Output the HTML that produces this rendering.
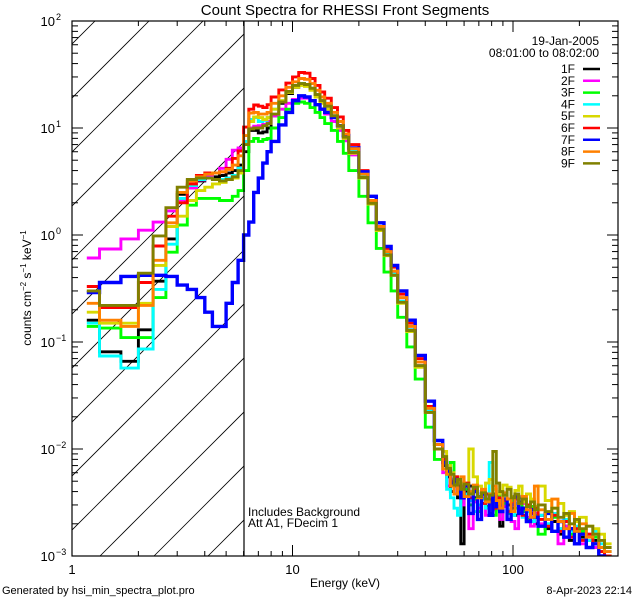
<!DOCTYPE html>
<html><head><meta charset="utf-8"><style>
html,body{margin:0;padding:0;background:#fff;}
svg{display:block;font-family:"Liberation Sans",sans-serif;}
</style></head><body>
<svg id="chart" width="640" height="600" viewBox="0 0 640 600" xmlns="http://www.w3.org/2000/svg">
<rect x="0" y="0" width="640" height="600" fill="#fff"/>
<text x="345" y="15" text-anchor="middle" font-size="15">Count Spectra for RHESSI Front Segments</text>
<g id="hatch"></g>
<g id="series"></g>
<g id="axes"></g>
<text x="31" y="288" transform="rotate(-90 31 288)" text-anchor="middle" font-size="12">counts cm<tspan font-size="8" dy="-5">−2</tspan><tspan dy="5"> s</tspan><tspan font-size="8" dy="-5">−1</tspan><tspan dy="5"> keV</tspan><tspan font-size="8" dy="-5">−1</tspan></text>
<text x="345" y="587" text-anchor="middle" font-size="12">Energy (keV)</text>
<text x="2" y="594" font-size="11">Generated by hsi_min_spectra_plot.pro</text>
<text x="632" y="594" text-anchor="end" font-size="11">8-Apr-2023 22:14</text>
<text x="248" y="516" font-size="12">Includes Background</text>
<text x="248" y="527" font-size="12">Att A1, FDecim 1</text>
<text x="599" y="45" text-anchor="end" font-size="12">19-Jan-2005</text>
<text x="599" y="57" text-anchor="end" font-size="12">08:01:00 to 08:02:00</text>
<g id="legend"></g>
</svg>
<script>
const binEdges = [1.167,1.333,1.667,2,2.333,2.667,3,3.333,3.667,4,4.333,4.667,5,5.333,5.667,6,6.333,6.667,7,7.333,7.667,8,
8.667,9.333,10,10.667,11.333,12,12.667,13.333,14,
15,16,17,18,20,22,24,26,28,30,33,36,40,44,48,
50,52,54,56,58,60,63,66,69,72,75,78,81,84,87,90,94,98,102,106,110,115,120,125,130,140,150,160,170,180,190,200,215,230,245,260,280];
const seriesNames = ["1F","2F","3F","4F","5F","6F","7F","8F","9F"];
const seriesColors = ["#000000","#ff00ff","#00ff00","#00ffff","#d8d800","#ff0000","#0000ff","#ff8000","#808000"];
const s1F = [0.16,0.081,0.066,0.13,0.37,0.92,2.4,2.9,3.2,3.4,3.5,3.6,3.8,4.0,4.5,
6,9.5,9.5,9.0,9.2,10, 13,17,21,24,26,25.5,23.5,20.5,18,
16,13,10.5,8.3,6.0,3.5,2.0,1.15,0.66,0.43,0.24,0.13,0.06,0.023,0.011,
0.007,0.0055,0.004,0.005,0.0035,0.0013,0.004,0.0045,0.0035,0.003,0.004,0.0032,0.0025,0.0038,0.0029,0.0019,0.0035,0.003,0.0028,0.0024,0.0032,0.0026,0.0022,0.0028,0.002,0.0024,0.0018,0.0021,0.0016,0.0019,0.0014,0.0017,0.0015,0.0012,0.0014,0.001,0.0009];
const s2F = [0.61,0.74,0.92,1.11,1.32,1.68,2.13,2.75,3.27,3.56,3.8,4.2,5.1,6.2,6.5,
7.5,10,10.4,10.5,10.8,11.5, 13,15,17,18.5,19,19,18,16.5,15,
13.5,11.5,9.5,7.6,5.6,3.4,1.95,1.12,0.65,0.43,0.24,0.13,0.06,0.023,0.010,
0.006,0.0045,0.005,0.0038,0.0042,0.003,0.0036,0.0018,0.0032,0.0028,0.0035,0.0024,0.003,0.0027,0.0033,0.0022,0.0029,0.0026,0.0021,0.0018,0.0027,0.0031,0.0023,0.0019,0.0025,0.002,0.0022,0.0017,0.0013,0.0019,0.0015,0.0018,0.0013,0.0016,0.0012,0.0011,0.0009];
const s3F = [0.14,0.135,0.11,0.11,0.26,0.69,1.24,1.9,2.2,2.2,2.2,2.1,2.1,2.3,2.6,
4,7.5,8,7.5,7.8,8, 10,12.5,15,17,17.5,17,15.5,14,12.5,
11,9.5,7.5,5.8,4.0,2.3,1.3,0.75,0.45,0.3,0.17,0.09,0.045,0.016,0.008,
0.0085,0.006,0.0075,0.0045,0.0048,0.0036,0.0042,0.003,0.0034,0.0026,0.0038,0.0029,0.0032,0.0024,0.0036,0.0027,0.0031,0.0025,0.0033,0.0028,0.0035,0.0026,0.0022,0.0029,0.0024,0.0016,0.002,0.0023,0.0018,0.0021,0.0016,0.0013,0.0017,0.0014,0.0015,0.0011,0.001];
const s4F = [0.15,0.074,0.057,0.086,0.31,0.82,2.2,2.9,3.3,3.4,3.3,3.3,3.4,3.6,4.2,
7.5,12,12.5,11.5,11.8,12.5, 15,18,22,25,26,25.5,23.5,20.5,18,
16,13,10.5,8.3,6.0,3.5,2.0,1.15,0.66,0.43,0.24,0.13,0.06,0.023,0.011,
0.0065,0.0042,0.0035,0.0028,0.0024,0.0045,0.0038,0.0033,0.0026,0.003,0.0034,0.0028,0.0075,0.0045,0.0032,0.0029,0.0036,0.0027,0.0024,0.0031,0.0028,0.0023,0.0026,0.0021,0.0029,0.0024,0.002,0.0025,0.0018,0.0022,0.0017,0.0019,0.0016,0.0014,0.0017,0.0013,0.0011];
const s5F = [0.19,0.15,0.15,0.23,0.52,1.2,1.5,2.1,2.6,2.8,3.0,3.1,3.3,3.4,3.8,
7,11.5,12.7,12.5,12,12.5, 15,18,21.5,24,25,24.5,22.5,19.5,17,
15,12.5,10,8,5.8,3.4,1.95,1.1,0.64,0.42,0.23,0.125,0.058,0.022,0.010,
0.0095,0.007,0.006,0.0055,0.0048,0.0042,0.0045,0.01,0.0055,0.0045,0.004,0.0048,0.0052,0.0042,0.0038,0.004,0.0046,0.0044,0.0036,0.0041,0.0045,0.0032,0.0038,0.0034,0.0029,0.0045,0.0033,0.0028,0.0031,0.0024,0.0026,0.0021,0.0023,0.0019,0.0018,0.0016,0.0013];
const s6F = [0.33,0.21,0.21,0.36,0.79,1.5,2.0,3.0,3.6,3.8,3.8,3.9,4.2,5.2,6.1,
10.2,15,16.4,16,15.5,16.5, 19.5,22.7,26.3,30,33,32.5,29,25,21.7,
19,15.5,12.7,9.5,7.0,4.0,2.3,1.3,0.75,0.5,0.28,0.15,0.07,0.025,0.011,
0.008,0.0065,0.005,0.0055,0.0045,0.004,0.0048,0.0035,0.0042,0.0036,0.0031,0.0038,0.0034,0.0028,0.0035,0.003,0.0033,0.0026,0.0031,0.0034,0.0027,0.0024,0.003,0.0025,0.0028,0.0022,0.0019,0.0024,0.0017,0.0021,0.0015,0.0018,0.0014,0.0016,0.0013,0.0011,0.001];
const s7F = [0.29,0.36,0.41,0.42,0.42,0.41,0.34,0.31,0.26,0.19,0.14,0.14,0.23,0.36,0.58,
1.0,1.32,2.5,3.4,4.7,6.0, 7.5,10.7,14,18,20,19.5,18,16.5,15,
14,12.5,10.5,8.5,6.5,3.9,2.3,1.3,0.78,0.52,0.3,0.16,0.075,0.028,0.012,
0.0075,0.0062,0.0048,0.0052,0.004,0.0035,0.0045,0.0025,0.004,0.0022,0.0038,0.0033,0.0024,0.0036,0.0029,0.0026,0.0034,0.0022,0.003,0.0036,0.0025,0.0028,0.0021,0.0027,0.0023,0.0019,0.0025,0.0017,0.0021,0.0015,0.0018,0.0013,0.0016,0.0012,0.0013,0.001,0.0009];
const s8F = [0.23,0.16,0.14,0.22,0.58,1.3,2.5,3.2,3.5,3.7,3.8,3.9,4.1,4.5,5.5,
8.5,13.8,14,13.5,13.5,14, 17,20,24,27,29,28.5,26,22.5,19.5,
17,14,11.5,8.8,6.4,3.7,2.1,1.2,0.7,0.46,0.26,0.14,0.065,0.024,0.011,
0.0065,0.0058,0.0045,0.0038,0.005,0.0055,0.0036,0.004,0.0046,0.0035,0.0042,0.0032,0.0038,0.0045,0.0033,0.0028,0.0039,0.0034,0.0026,0.0038,0.0031,0.0036,0.0027,0.0023,0.0045,0.0027,0.0022,0.0034,0.0021,0.0018,0.0025,0.0017,0.002,0.0015,0.0016,0.0012,0.0011];
const s9F = [0.30,0.22,0.22,0.44,0.98,1.8,2.8,3.3,3.4,3.4,3.3,3.2,3.3,3.5,4.0,
7,9.8,10,10,10.5,11, 13.5,17.5,22,25,26,25.5,23.5,20.5,18,
16,13,10.5,8.2,5.9,3.45,1.98,1.13,0.65,0.42,0.235,0.128,0.06,0.022,0.01,
0.0085,0.0066,0.0058,0.0046,0.0052,0.0042,0.0047,0.0038,0.0044,0.0036,0.0039,0.0034,0.0037,0.0095,0.0048,0.004,0.0037,0.0042,0.0035,0.0038,0.0031,0.0034,0.0029,0.0032,0.0027,0.003,0.0026,0.0028,0.0023,0.0025,0.002,0.0022,0.0018,0.0019,0.0016,0.0014,0.0012];
const seriesValues = [s1F,s2F,s3F,s4F,s5F,s6F,s7F,s8F,s9F];
const xTickLabels = ["1","10","100"];
const yTickExps = ["2","1","0","−1","−2","−3"];

const NS = "http://www.w3.org/2000/svg";
const L = 72, R = 618, T = 21, B = 556;
const xDec = 220.5, yDec = 107;
function xScale(e){ return L + xDec*Math.log10(e); }
function yScale(v){ return T + (2 - Math.log10(v))*yDec; }
function mk(tag, attrs, parent){ const el = document.createElementNS(NS, tag); for (const k in attrs) el.setAttribute(k, attrs[k]); parent.appendChild(el); return el; }

const defs = mk('defs', {}, document.getElementById('chart'));
const cp = mk('clipPath', {id:'plotclip'}, defs);
mk('rect', {x:L, y:T, width:R-L, height:B-T}, cp);
const cp2 = mk('clipPath', {id:'hatchclip'}, defs);
mk('rect', {x:L, y:T, width:244-L, height:B-T}, cp2);

const hg = document.getElementById('hatch');
hg.setAttribute('clip-path','url(#hatchclip)');
for (let k = -12; k < 4; k++) {
  const x0 = 208 + 54*k;
  const ln = mk('line', {x1:x0, y1:B, x2:x0+600, y2:B-600, stroke:'#000', 'stroke-width':0.8}, hg);
  
  
}
const vl = mk('line', {x1:244, y1:T, x2:244, y2:B, stroke:'#000', 'stroke-width':1.2}, hg.parentNode);



const sg = document.getElementById('series');
sg.setAttribute('clip-path','url(#plotclip)');
seriesValues.forEach((vals, si) => {
  let d = '';
  const n = Math.min(vals.length, binEdges.length - 1);
  for (let i = 0; i < n; i++) {
    const x0 = xScale(binEdges[i]), x1 = xScale(binEdges[i+1]);
    const y = Math.min(yScale(vals[i]), B + 5);
    d += (i === 0 ? 'M' : 'L') + x0.toFixed(1) + ',' + y.toFixed(1) + 'L' + x1.toFixed(1) + ',' + y.toFixed(1);
  }
  const p = mk('path', {d:d, fill:'none', stroke:seriesColors[si], 'stroke-width': si === 6 ? 3.4 : 2.9, 'stroke-linejoin':'miter'}, sg);
  
  
});

const ag = document.getElementById('axes');
const frame = mk('rect', {x:L, y:T, width:R-L, height:B-T, fill:'none', stroke:'#000', 'stroke-width':1.2}, ag);


for (let dec = 0; dec < 3; dec++) {
  for (let m = 1; m <= 9; m++) {
    const e = m * Math.pow(10, dec);
    const x = xScale(e);
    if (x > R) continue;
    const len = m === 1 ? 11 : 5;
    const t1 = mk('line', {x1:x, y1:B, x2:x, y2:B-len, stroke:'#000'}, ag);
    
    
    const t2 = mk('line', {x1:x, y1:T, x2:x, y2:T+len, stroke:'#000'}, ag);
    
    
  }
}
xTickLabels.forEach((lab, i) => {
  const tx = mk('text', {x:xScale(Math.pow(10,i)), y:574, 'text-anchor':'middle', 'font-size':13}, ag);
  tx.textContent = lab;
  
  
});
for (let dec = -3; dec < 2; dec++) {
  for (let m = 1; m <= 9; m++) {
    const y = yScale(m * Math.pow(10, dec));
    const len = m === 1 ? 11 : 6;
    const t1 = mk('line', {x1:L, y1:y, x2:L+len, y2:y, stroke:'#000'}, ag);
    
    
    const t2 = mk('line', {x1:R, y1:y, x2:R-len, y2:y, stroke:'#000'}, ag);
    
    
  }
}
yTickExps.forEach((ex, i) => {
  const y = yScale(Math.pow(10, 2 - i));
  const tx = mk('text', {x:55, y:y+5, 'text-anchor':'end', 'font-size':13}, ag);
  tx.textContent = '10';
  
  
  const sup = mk('text', {x:56, y:y-1, 'font-size':9}, ag);
  sup.textContent = ex;
  
  
});

const lg = document.getElementById('legend');
seriesNames.forEach((n, i) => {
  const y = 69 + i*11.8;
  const tx = mk('text', {x:575, y:y+4, 'text-anchor':'end', 'font-size':12}, lg);
  tx.textContent = n;
  
  
  const ln = mk('line', {x1:583, y1:y, x2:600, y2:y, stroke:seriesColors[i], 'stroke-width':2.5}, lg);
  
  
});
</script>
</body></html>
